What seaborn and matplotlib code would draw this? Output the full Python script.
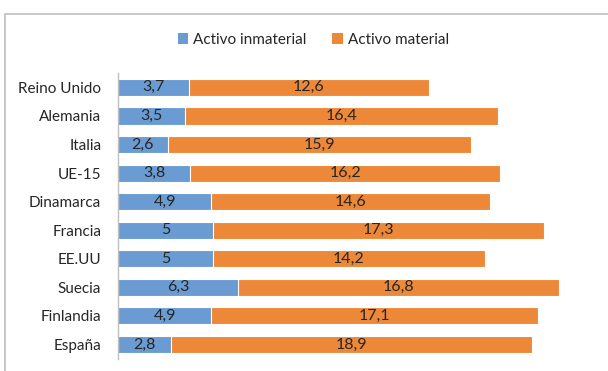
import matplotlib
matplotlib.use("Agg")
import matplotlib.pyplot as plt
import seaborn as sns
import pandas as pd
from matplotlib.patches import Rectangle, Patch

paises = ["Reino Unido", "Alemania", "Italia", "UE-15", "Dinamarca",
          "Francia", "EE.UU", "Suecia", "Finlandia", "España"]
inmaterial = [3.7, 3.5, 2.6, 3.8, 4.9, 5.0, 5.0, 6.3, 4.9, 2.8]
material = [12.6, 16.4, 15.9, 16.2, 14.6, 17.3, 14.2, 16.8, 17.1, 18.9]
lab_inm = ["3,7", "3,5", "2,6", "3,8", "4,9", "5", "5", "6,3", "4,9", "2,8"]
lab_mat = ["12,6", "16,4", "15,9", "16,2", "14,6", "17,3", "14,2", "16,8", "17,1", "18,9"]

BLUE = "#6A9CD3"
ORANGE = "#ED8838"
TXT = "#262626"

sns.set_theme(style="white")
plt.rcParams["font.family"] = ["Lato", "DejaVu Sans"]

df = pd.DataFrame({"pais": paises, "inm": inmaterial, "mat": material})
df["total"] = df["inm"] + df["mat"]

fig = plt.figure(figsize=(6.08, 3.71), dpi=100)
ax = fig.add_axes([0.194, 0.033, 0.785, 0.770])

sns.barplot(data=df, y="pais", x="total", orient="h", color=ORANGE,
            saturation=1, width=0.6, edgecolor="white", linewidth=0.8, ax=ax)
sns.barplot(data=df, y="pais", x="inm", orient="h", color=BLUE,
            saturation=1, width=0.6, edgecolor="white", linewidth=0.8, ax=ax)

for i, (a, b) in enumerate(zip(inmaterial, material)):
    ax.text(a / 2, i, lab_inm[i], ha="center", va="center", fontsize=11.5, color=TXT)
    ax.text(a + b / 2, i, lab_mat[i], ha="center", va="center", fontsize=11.5, color=TXT)

ax.set_xlim(0, 25)
ax.set_ylim(9.5, -0.5)
ax.set_xlabel("")
ax.set_ylabel("")
ax.set_xticks([])
ax.tick_params(axis="y", length=0, pad=12, labelsize=11, labelcolor=TXT)
for s in ["top", "right", "bottom"]:
    ax.spines[s].set_visible(False)
ax.spines["left"].set_color("#BFBFBF")
ax.spines["left"].set_linewidth(1)

handles = [Patch(facecolor=BLUE, edgecolor="none"), Patch(facecolor=ORANGE, edgecolor="none")]
fig.legend(handles, ["Activo inmaterial", "Activo material"], loc="center",
           bbox_to_anchor=(0.515, 0.893), ncol=2, frameon=False, fontsize=11,
           handlelength=0.7, handleheight=0.7, handletextpad=0.3, columnspacing=1.7,
           labelcolor=TXT)

fig.patches.append(Rectangle((0.008, -0.1), 1.2, 0.1 + 0.963, transform=fig.transFigure,
                             fill=False, edgecolor="#BFBFBF", linewidth=1.2))

fig.savefig("out.png", dpi=100)
